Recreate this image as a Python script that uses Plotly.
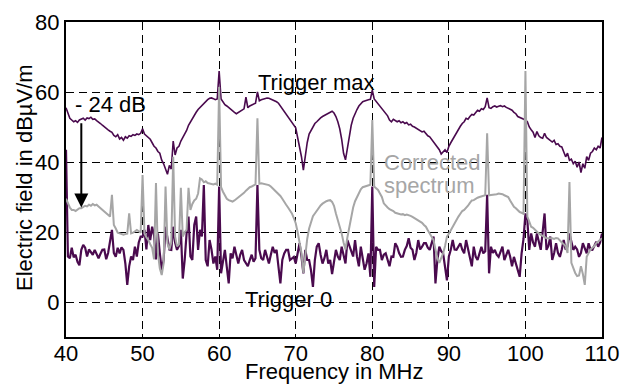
import numpy as np
import plotly.graph_objects as go

# frequency grid (MHz), 0.25 MHz steps
freq = np.round(np.arange(40, 110.001, 0.25), 2)

# Trigger max (dBuV/m)
trigger_max = [
    55.5, 54, 52.5, 52,  51.5, 51.8, 51.3, 52,  52.3, 52.5, 52, 52.6,  52.4, 52.8, 52.2, 52.3,
    51.8, 51.5, 51, 50.5,  50, 49.6, 49.2, 48.8,  48.5, 47.6, 47.2, 47.8,  46.6, 47, 46.2, 47.2,
    46.8, 47.5, 47.3, 47.8,  47.6, 48, 47.8, 48.2,  49.5, 48, 47.5, 46.8,  46.5, 45.5, 44.5, 44,
    43, 42.5, 40.5, 39.5,  37.8, 36.5, 39, 38,  46, 42, 44, 44.5,  46, 47, 48, 49,
    50.5, 51.5, 52.5, 53.5,  54.2, 55, 55.6, 56.2,  56.8, 57.4, 57.8, 58.2,  58.3, 58.1, 57.8, 58,
    66, 58, 57, 56.4,  56, 55.5, 55, 54.6,  54.2, 53.8, 54.2, 54.5,  54.8, 55.2, 58.5, 55.5,
    56, 56.2, 56.5, 56.8,  60, 57.5, 57.8, 58,  58.2, 58.3, 58.2, 58,  57.8, 57.5, 57.2, 56.8,
    56, 55.2, 54.4, 53.5,  52.8, 52, 51.4, 50.6,  49.8, 47, 44.5, 41.5,  37.7, 42, 45.5, 48,
    49, 50, 51, 51.5,  52.2, 52.6, 53, 53.3,  53.6, 54, 54.2, 54.5,  54, 53, 51.5, 49.5,
    46.5, 42.5, 40.6, 44,  47.5, 50.5, 52.5, 54,  55, 56, 56.7, 57.2,  57.4, 57.7, 57.8, 57.9,
    60.5, 58, 57.3, 56.8,  56.2, 55.5, 54.5, 53.8,  53.2, 52, 51.5, 52.2,  51.8, 51.5, 51.8, 51.2,
    51.5, 51, 51.3, 50.6,  50.8, 50.2, 50, 49.6,  49.3, 49, 48.6, 48.8,  48, 47.5, 47.2, 46.5,
    45.8, 45, 44.5, 43.5,  42.3, 42.8, 43.5, 42.7,  44.5, 45.5, 46.5, 47.5,  48.5, 49.5, 50.2, 51,
    51.5, 52.5, 52.2, 53,  53.6, 53.4, 54.2, 54.8,  54.5, 55.2, 55, 55.8,  58.3, 55.5, 55.3, 55.8,
    56, 55.7, 55.9, 56.1,  55.8, 56, 55.6, 55.3,  55, 54.8, 54.2, 53.8,  53, 52.8, 52.4, 52.2,
    52, 51.5, 50, 49.2,  48.5, 47, 48.7, 47.5,  47, 46.8, 48.2, 47,  46.5, 46, 45.7, 46.2,
    45, 45.2, 44.5, 44.3,  42.8, 41.5, 42.5, 40.5,  40.8, 39.5, 40.2, 38.5,  40, 37, 39.5, 38.2,
    41.5, 40.5, 42.5, 43,  44, 43.5, 44.5, 44,  47,
]

# Trigger 0 (dBuV/m)
trigger_0 = [
    43.5, 13, 12.5, 15.5,  12.8, 13.5, 11.5, 10.5,  14.9, 16.3, 15.5, 13,  15, 14.2, 13.5, 14.9,
    13.9, 12.5, 13.8, 14.9,  15, 12.2, 14, 16.8,  20.6, 14, 12.9, 15.5,  13.9, 15.6, 14.9, 11,
    4.9, 10.2, 13, 12,  15.8, 13, 17, 18.7,  18.7, 20.6, 15, 22,  17.7, 21.5, 19, 12.2,
    19.6, 14, 9.2, 12,  21.5, 18.2, 15, 14.9,  21.5, 17, 14.9, 16,  20.6, 6.7, 12, 19.6,
    24.4, 13, 12, 22,  24.4, 14.9, 20.6, 18.7,  33.4, 12, 10.2, 17.7,  15, 11, 13, 9.2,
    33, 8.2, 12, 14.9,  10, 5.3, 13.9, 12.5,  15.8, 13, 11, 13.5,  14.9, 12, 11, 10.2,
    12, 13.5, 11.5, 12.5,  33.4, 14.9, 12.5, 12,  14.9, 13, 11, 13.5,  15.8, 14, 14.9, 10,
    5.3, 12, 13.9, 14.9,  14.9, 12, 12.5, 12.9,  11, 13.5, 16.8, 13,  8.2, 14.9, 12, 12,
    9, 4.3, 12, 15.8,  16.8, 13.5, 11, 12.5,  14.9, 11, 12, 8,  12, 14.9, 13, 12,
    15.8, 13, 11, 17.7,  16, 14.9, 13, 17.7,  13, 10.2, 15.8, 12.5,  9.2, 11, 13.9, 7.2,
    33, 4.3, 15.8, 14.9,  14.9, 12, 13.5, 13.9,  12, 10.2, 13, 12.9,  16.8, 15.8, 14, 12.9,
    13, 14.9, 16, 18.2,  15.5, 14.9, 12, 14,  17.7, 15, 15.8, 16.8,  16.8, 15.5, 14.9, 16.5,
    18.7, 5.3, 12, 15.8,  14.5, 13.9, 10.2, 6.2,  13, 14.9, 17.7, 15,  14.9, 16, 16.8, 15,
    13.9, 17.7, 14.9, 12,  10.2, 15.8, 13, 12,  14, 15.8, 13.9, 14.5,  30.6, 8.2, 15.8, 14,
    14.9, 13.5, 12.9, 14.5,  15.8, 12, 13.5, 14.9,  13, 10.2, 12.9, 11,  9.2, 7.2, 13.9, 18,
    25.3, 23.4, 14.9, 19.6,  17, 15.8, 19.6, 17,  14.9, 20, 25.3, 14.9,  16, 18.7, 12, 14,
    16.8, 14, 12.9, 15,  17.7, 15, 15.8, 19.6,  17, 14.9, 15.8, 15,  12.9, 14, 16.8, 15,
    13.9, 16.8, 15, 14.9,  16, 17.2, 15.8, 17,  19.6,
]

# Corrected spectrum (dBuV/m)
corrected = [
    29.5, 28, 27, 26.3,  26.3, 26, 26.4, 26.8,  26.8, 27.2, 27.5, 27.3,  27.8, 27.5, 28, 27.6,
    27.8, 27.3, 26.8, 26.2,  25.8, 25.3, 24.8, 24.4,  30.6, 22, 21, 19.8,  19.6, 19.4, 19.2, 19.4,
    19.5, 25.3, 19.6, 19.8,  20.2, 20.6, 20.2, 19.8,  36.3, 19.6, 18.5, 17.7,  16.5, 15.5, 12.2, 34,
    14, 9.6, 7.7, 11,  33, 16.8, 15, 17,  41.5, 18.7, 15.9, 16.5,  32.6, 18.7, 20, 20.6,
    32.6, 26.3, 28, 29,  29.5, 31, 35.3, 35,  34.2, 34.5, 34, 33.8,  33.8, 33.6, 33.8, 33.5,
    61.4, 32.8, 31.5, 30.5,  29.5, 29.1, 28.8, 28.7,  29, 29.4, 29.8, 30.2,  30.6, 31.2, 31.8, 32.4,
    32.8, 33, 33.4, 33.6,  52.5, 33.8, 33.9, 33.8,  33.7, 33.6, 33.4, 33,  32.5, 32, 31.5, 31,
    30.3, 29.5, 28.5, 27.8,  27, 26.2, 25.3, 24,  22.5, 20, 17.5, 14,  8.3, 14, 18, 21,
    23, 24.5, 25.3, 26.2,  27, 27.6, 28.1, 28.5,  28.8, 29, 29.1, 28.6,  27.5, 25.3, 23.5, 21.5,
    19.6, 17, 15, 18.5,  21.5, 24.4, 27, 28.8,  30.1, 31.2, 32.2, 32.8,  33, 33.3, 33.5, 33.5,
    52, 33, 32.5, 32,  31, 30, 28.2, 27.5,  27, 26.5, 26.3, 26,  25.5, 25.3, 25.2, 25,
    25.1, 24.8, 25, 24.9,  24.6, 24.3, 24, 23.6,  23.4, 23, 22.6, 22,  21.5, 20.5, 19.5, 18.5,
    17.7, 15, 12.5, 11.2,  12.5, 13.9, 16, 18.7,  19.5, 20.5, 21.5, 22.8,  23.5, 24.4, 25.2, 26,
    26.3, 26.8, 27.5, 28.3,  29, 29.1, 29.5, 29.8,  30, 30.2, 30.4, 30.5,  48.2, 30.5, 30.6, 30.6,
    30.6, 30.8, 31, 31,  30.8, 30.5, 30.2, 30,  29, 28, 27.2, 26.8,  26.3, 25.7, 25.5, 25.2,
    66, 24.4, 23, 21.5,  21.2, 20.6, 20.2, 19.6,  19.2, 19, 18.6, 18.2,  18.2, 18.4, 18.2, 18,
    18.3, 18.2, 17.5, 17,  16.5, 15.9, 14, 34.3,  11.2, 9.5, 8.3, 7.4,  7.6, 10.2, 8, 4.9,
    12.9, 14, 15, 15.5,  16, 16.8, 17.2, 17.8,  18.2,
]

x_ticks = [40, 50, 60, 70, 80, 90, 100, 110]
y_ticks = [0, 20, 40, 60, 80]

PURPLE = "#4a0a4e"
GRAY = "#a6a6a6"
FONT = "Arial, Liberation Sans, sans-serif"

fig = go.Figure()
fig.add_trace(go.Scatter(x=freq, y=trigger_max, mode="lines",
                         line=dict(color=PURPLE, width=1.6), name="Trigger max"))
fig.add_trace(go.Scatter(x=freq, y=trigger_0, mode="lines",
                         line=dict(color=PURPLE, width=2.2), name="Trigger 0"))
fig.add_trace(go.Scatter(x=freq, y=corrected, mode="lines",
                         line=dict(color=GRAY, width=2), name="Corrected spectrum"))

fig.add_annotation(x=72.65, y=62.6, text="Trigger max", showarrow=False,
                   font=dict(size=22, color="black", family=FONT))
fig.add_annotation(x=40.9, y=56.3, text="- 24 dB", showarrow=False, xanchor="left",
                   font=dict(size=22, color="black", family=FONT))
fig.add_annotation(x=81.3, y=40.0, text="Corrected", showarrow=False, xanchor="left",
                   font=dict(size=22, color=GRAY, family=FONT))
fig.add_annotation(x=81.3, y=33.4, text="spectrum", showarrow=False, xanchor="left",
                   font=dict(size=22, color=GRAY, family=FONT))
fig.add_annotation(x=69.1, y=0.6, text="Trigger 0", showarrow=False,
                   font=dict(size=22, color="black", family=FONT))
fig.add_annotation(x=42, y=27, ax=42, ay=51.5, xref="x", yref="y", axref="x", ayref="y",
                   text="", showarrow=True, arrowhead=2, arrowsize=1.4, arrowwidth=2,
                   arrowcolor="black")

# axis titles placed as paper-anchored annotations
fig.add_annotation(x=(334 - 66) / 536, y=(337 - 386) / 315, xref="paper", yref="paper",
                   text="Frequency in MHz", showarrow=False, xanchor="center", yanchor="bottom",
                   font=dict(size=22, color="black", family=FONT))
fig.add_annotation(x=(24 - 66) / 536, y=(337 - 178) / 315, xref="paper", yref="paper",
                   text="Electric field in dBµV/m", showarrow=False, textangle=-90,
                   xanchor="center", yanchor="middle",
                   font=dict(size=22, color="black", family=FONT))

axis_common = dict(showline=True, linecolor="black", linewidth=2, mirror=True,
                   showgrid=True, gridcolor="black", gridwidth=1, griddash="8px,5px",
                   zeroline=False, ticks="", tickfont=dict(size=22, color="black", family=FONT))

fig.update_xaxes(range=[40, 110], tickvals=x_ticks, ticklabelstandoff=-4, **axis_common)
fig.update_yaxes(range=[-10, 80], tickvals=y_ticks, **axis_common)

fig.update_layout(width=623, height=385, margin=dict(l=66, r=21, t=22, b=48, autoexpand=False),
                  plot_bgcolor="white", paper_bgcolor="white", showlegend=False)

fig.write_html("out.html")
